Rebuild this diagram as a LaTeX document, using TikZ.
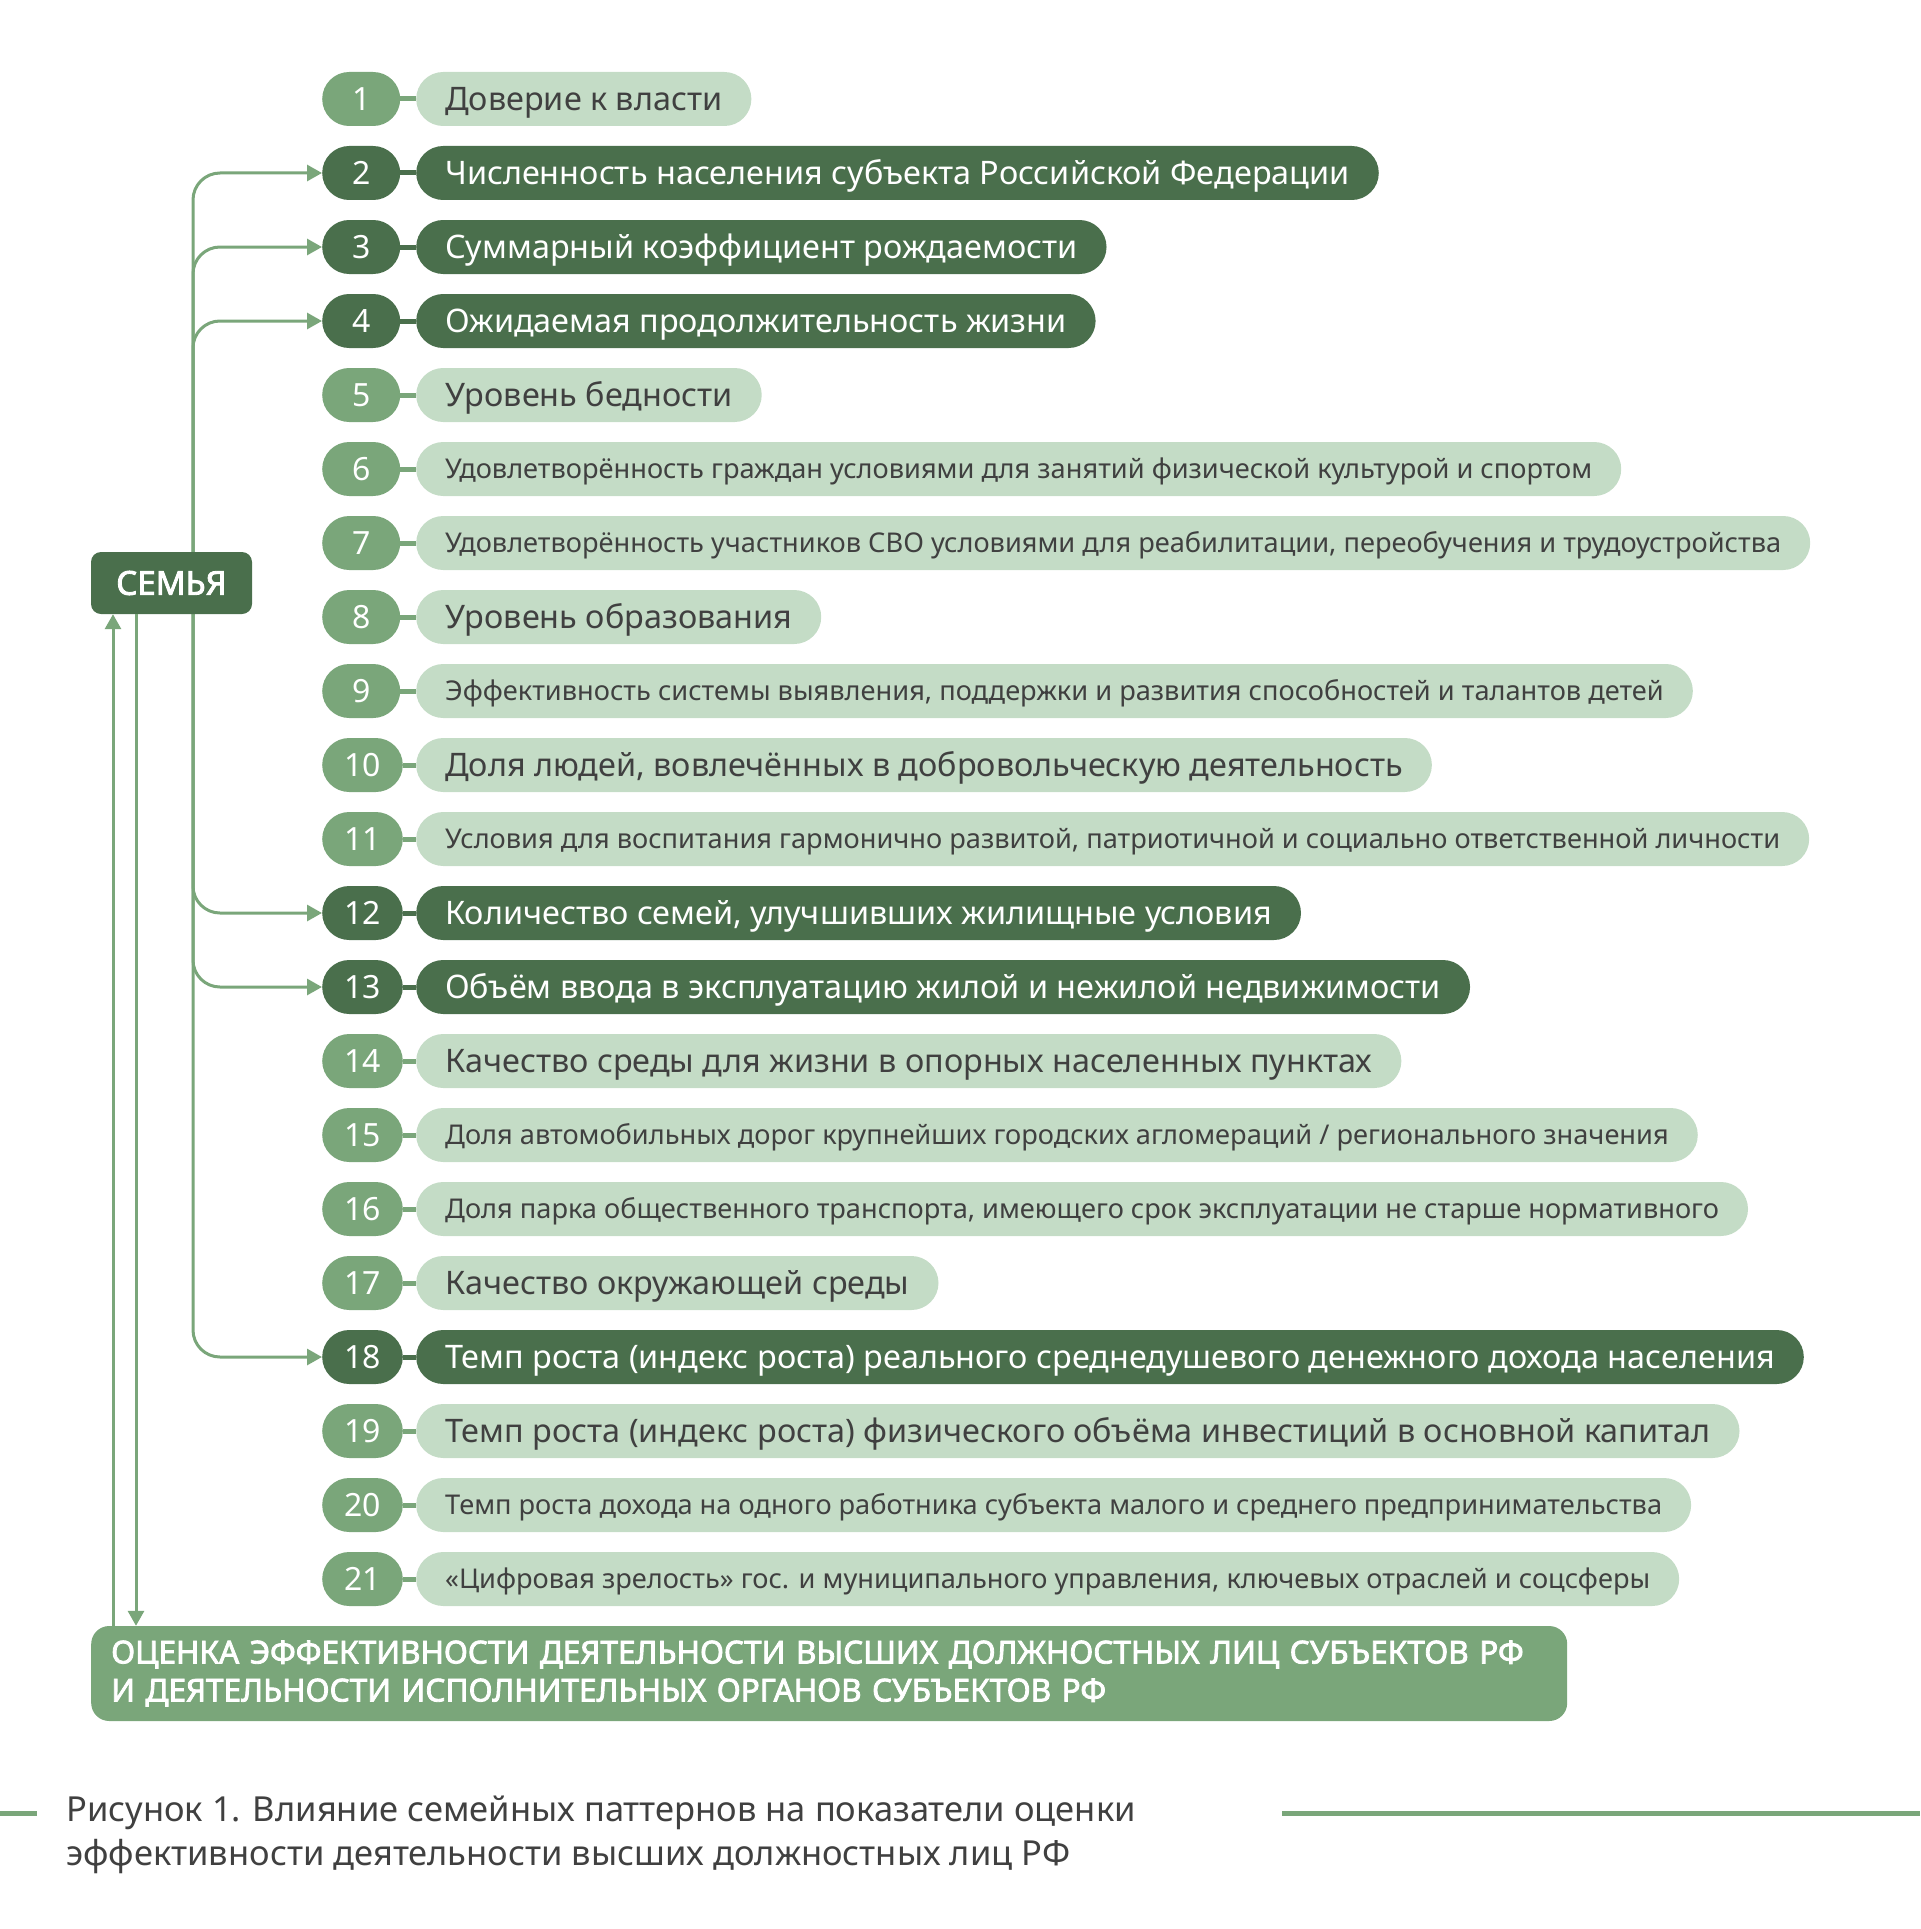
\documentclass[tikz,border=0pt]{standalone}
\usepackage{fontspec}
\setmainfont{Noto Sans}[AutoFakeBold=2.6]
\usetikzlibrary{arrows.meta, positioning}
\definecolor{midgreen}{RGB}{122,166,122}
\definecolor{darkgreen}{RGB}{74,111,76}
\definecolor{lightgreen}{RGB}{196,220,198}
\definecolor{textgray}{RGB}{64,64,64}
\tikzstyle{numlight} = [rectangle, rounded corners=27pt, anchor=west, minimum width=78pt, minimum height=54pt, inner xsep=22pt, inner ysep=0pt, fill=midgreen, text=white, font=\fontsize{32}{36}\selectfont, text height=23pt, text depth=0pt]
\tikzstyle{numdark} = [numlight, fill=darkgreen]
\tikzstyle{pilllight} = [rectangle, rounded corners=27pt, anchor=west, minimum height=54pt, inner xsep=29pt, inner ysep=0pt, fill=lightgreen, text=textgray]
\tikzstyle{pilldark} = [pilllight, fill=darkgreen, text=white]
\tikzstyle{bigtxt} = [font=\fontsize{32.4}{36}\selectfont, text height=23pt, text depth=0pt]
\tikzstyle{smalltxt} = [font=\fontsize{27.2}{30}\selectfont, text height=19.4pt, text depth=0pt]
\tikzstyle{linklight} = [line width=5pt, midgreen]
\tikzstyle{linkdark} = [line width=5pt, darkgreen]
\tikzstyle{arrow} = [line width=3pt, midgreen, -{Triangle[length=15pt, width=16pt]}]
\tikzstyle{branch} = [arrow, rounded corners=27pt]

\begin{document}
\begin{tikzpicture}[x=1pt, y=-1pt]
    \useasboundingbox (0,0) rectangle (1920,1929);

    % Indicator list
    \node (n1) [numlight] at (322,99) {1};
    \node (t1) [pilllight, bigtxt] at (416,99) {Доверие к власти};
    \node (n2) [numdark] at (322,173) {2};
    \node (t2) [pilldark, bigtxt] at (416,173) {Численность населения субъекта Российской Федерации};
    \node (n3) [numdark] at (322,247) {3};
    \node (t3) [pilldark, bigtxt] at (416,247) {Суммарный коэффициент рождаемости};
    \node (n4) [numdark] at (322,321) {4};
    \node (t4) [pilldark, bigtxt] at (416,321) {Ожидаемая продолжительность жизни};
    \node (n5) [numlight] at (322,395) {5};
    \node (t5) [pilllight, bigtxt] at (416,395) {Уровень бедности};
    \node (n6) [numlight] at (322,469) {6};
    \node (t6) [pilllight, smalltxt] at (416,469) {Удовлетворённость граждан условиями для занятий физической культурой и спортом};
    \node (n7) [numlight] at (322,543) {7};
    \node (t7) [pilllight, smalltxt] at (416,543) {Удовлетворённость участников СВО условиями для реабилитации, переобучения и трудоустройства};
    \node (n8) [numlight] at (322,617) {8};
    \node (t8) [pilllight, bigtxt] at (416,617) {Уровень образования};
    \node (n9) [numlight] at (322,691) {9};
    \node (t9) [pilllight, smalltxt] at (416,691) {Эффективность системы выявления, поддержки и развития способностей и талантов детей};
    \node (n10) [numlight] at (322,765) {10};
    \node (t10) [pilllight, bigtxt] at (416,765) {Доля людей, вовлечённых в добровольческую деятельность};
    \node (n11) [numlight] at (322,839) {11};
    \node (t11) [pilllight, smalltxt] at (416,839) {Условия для воспитания гармонично развитой, патриотичной и социально ответственной личности};
    \node (n12) [numdark] at (322,913) {12};
    \node (t12) [pilldark, bigtxt] at (416,913) {Количество семей, улучшивших жилищные условия};
    \node (n13) [numdark] at (322,987) {13};
    \node (t13) [pilldark, bigtxt] at (416,987) {Объём ввода в эксплуатацию жилой и нежилой недвижимости};
    \node (n14) [numlight] at (322,1061) {14};
    \node (t14) [pilllight, bigtxt] at (416,1061) {Качество среды для жизни в опорных населенных пунктах};
    \node (n15) [numlight] at (322,1135) {15};
    \node (t15) [pilllight, smalltxt] at (416,1135) {Доля автомобильных дорог крупнейших городских агломераций / регионального значения};
    \node (n16) [numlight] at (322,1209) {16};
    \node (t16) [pilllight, smalltxt] at (416,1209) {Доля парка общественного транспорта, имеющего срок эксплуатации не старше нормативного};
    \node (n17) [numlight] at (322,1283) {17};
    \node (t17) [pilllight, bigtxt] at (416,1283) {Качество окружающей среды};
    \node (n18) [numdark] at (322,1357) {18};
    \node (t18) [pilldark, bigtxt] at (416,1357) {Темп роста (индекс роста) реального среднедушевого денежного дохода населения};
    \node (n19) [numlight] at (322,1431) {19};
    \node (t19) [pilllight, bigtxt] at (416,1431) {Темп роста (индекс роста) физического объёма инвестиций в основной капитал};
    \node (n20) [numlight] at (322,1505) {20};
    \node (t20) [pilllight, smalltxt] at (416,1505) {Темп роста дохода на одного работника субъекта малого и среднего предпринимательства};
    \node (n21) [numlight] at (322,1579) {21};
    \node (t21) [pilllight, smalltxt] at (416,1579) {«Цифровая зрелость» гос. и муниципального управления, ключевых отраслей и соцсферы};

    \draw [linklight] (n1) -- (t1);
    \draw [linkdark] (n2) -- (t2);
    \draw [linkdark] (n3) -- (t3);
    \draw [linkdark] (n4) -- (t4);
    \draw [linklight] (n5) -- (t5);
    \draw [linklight] (n6) -- (t6);
    \draw [linklight] (n7) -- (t7);
    \draw [linklight] (n8) -- (t8);
    \draw [linklight] (n9) -- (t9);
    \draw [linklight] (n10) -- (t10);
    \draw [linklight] (n11) -- (t11);
    \draw [linkdark] (n12) -- (t12);
    \draw [linkdark] (n13) -- (t13);
    \draw [linklight] (n14) -- (t14);
    \draw [linklight] (n15) -- (t15);
    \draw [linklight] (n16) -- (t16);
    \draw [linklight] (n17) -- (t17);
    \draw [linkdark] (n18) -- (t18);
    \draw [linklight] (n19) -- (t19);
    \draw [linklight] (n20) -- (t20);
    \draw [linklight] (n21) -- (t21);

    % Family and the evaluation box
    \coordinate (trunk) at (193,583);
    \coordinate (upx) at (113,1000);
    \coordinate (downx) at (136,1000);
    \draw [branch] (trunk) |- (n2);
    \draw [branch] (trunk) |- (n3);
    \draw [branch] (trunk) |- (n4);
    \draw [branch] (trunk) |- (n12);
    \draw [branch] (trunk) |- (n13);
    \draw [branch] (trunk) |- (n18);
    \node (semya) [rectangle, rounded corners=10pt, minimum width=161pt, minimum height=62pt, fill=darkgreen, text=white, font=\fontsize{33}{36}\selectfont\bfseries] at (171.5,583) {СЕМЬЯ};
    \node (evalbox) [rectangle, rounded corners=18pt, anchor=west, minimum width=1476pt, minimum height=95pt, inner xsep=20pt, text width=1436pt, align=left, fill=midgreen, text=white, font=\fontsize{31.5}{38}\selectfont\bfseries] at (91,1673.5) {ОЦЕНКА ЭФФЕКТИВНОСТИ ДЕЯТЕЛЬНОСТИ ВЫСШИХ ДОЛЖНОСТНЫХ ЛИЦ СУБЪЕКТОВ РФ\\И ДЕЯТЕЛЬНОСТИ ИСПОЛНИТЕЛЬНЫХ ОРГАНОВ СУБЪЕКТОВ РФ};
    \draw [arrow] (evalbox.north -| upx) -- (semya.south -| upx);
    \draw [arrow] (semya.south -| downx) -- (evalbox.north -| downx);

    % Caption
    \node (caption) [anchor=west, align=left, inner sep=0pt, text=textgray, font=\fontsize{34.5}{44}\selectfont] at (66,1835) {Рисунок 1. Влияние семейных паттернов на показатели оценки\\эффективности деятельности высших должностных лиц РФ};
    \draw [line width=5pt, midgreen] (0,1813) -- (37,1813);
    \draw [line width=5pt, midgreen] (1282,1813) -- (1920,1813);

\end{tikzpicture}
\end{document}
